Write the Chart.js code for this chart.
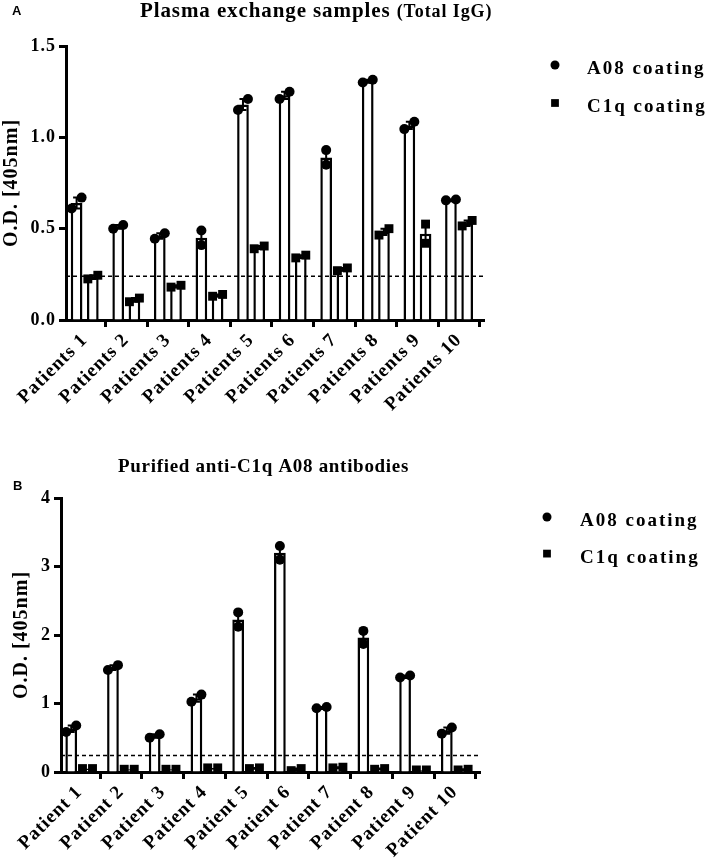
<!DOCTYPE html>
<html>
<head>
<meta charset="utf-8">
<script src="https://cdn.jsdelivr.net/npm/chart.js@4.4.1/dist/chart.umd.min.js"></script>
<style>
  html, body { margin: 0; padding: 0; background: #fff; }
  .panel { position: absolute; left: 0; }
</style>
</head>
<body>
<canvas id="chartA" class="panel" width="711" height="430" style="top:0"></canvas>
<canvas id="chartB" class="panel" width="711" height="434" style="top:430px"></canvas>
<script>
// ---- data ----
const patientsA = ['Patients 1', 'Patients 2', 'Patients 3', 'Patients 4', 'Patients 5',
                   'Patients 6', 'Patients 7', 'Patients 8', 'Patients 9', 'Patients 10'];
const patientsB = ['Patient 1', 'Patient 2', 'Patient 3', 'Patient 4', 'Patient 5',
                   'Patient 6', 'Patient 7', 'Patient 8', 'Patient 9', 'Patient 10'];

// panel A: plasma exchange samples, two replicates per well
const a08A_rep1 = [0.61, 0.50, 0.445, 0.41, 1.15, 1.21, 0.85, 1.30, 1.045, 0.655];
const a08A_rep2 = [0.67, 0.52, 0.475, 0.49, 1.21, 1.25, 0.93, 1.315, 1.085, 0.66];
const c1qA_rep1 = [0.225, 0.10, 0.18, 0.13, 0.39, 0.34, 0.27, 0.465, 0.42, 0.515];
const c1qA_rep2 = [0.245, 0.12, 0.19, 0.14, 0.405, 0.355, 0.285, 0.50, 0.525, 0.545];

// panel B: purified anti-C1q A08 antibodies
const a08B_rep1 = [0.585, 1.49, 0.50, 1.025, 2.12, 3.10, 0.93, 1.87, 1.38, 0.56];
const a08B_rep2 = [0.68, 1.56, 0.55, 1.13, 2.33, 3.30, 0.95, 2.06, 1.41, 0.65];
const c1qB_rep1 = [0.05, 0.04, 0.04, 0.06, 0.05, 0.02, 0.06, 0.04, 0.03, 0.03];
const c1qB_rep2 = [0.05, 0.04, 0.04, 0.06, 0.06, 0.05, 0.07, 0.05, 0.03, 0.04];

const cutoff = 0.24;
const seriesNames = ['A08 coating', 'C1q coating'];

const SERIF = '"Liberation Serif", "Times New Roman", serif';

// mean and SEM of the two replicates
const mean = (r1, r2) => r1.map((v, i) => ({ x: i, y: (v + r2[i]) / 2 }));
const sem = (r1, r2) => r1.map((v, i) => Math.abs(v - r2[i]) / 2);

// replicate dots: side by side when they would overlap, stacked otherwise
function replicatePoints(r1, r2, shift, yMax) {
  const pts = [];
  r1.forEach((v, i) => {
    const lo = Math.min(v, r2[i]), hi = Math.max(v, r2[i]);
    const spread = (hi - lo) < yMax * 0.044 ? 0.12 : 0;
    pts.push({ x: i + shift - spread, y: lo });
    pts.push({ x: i + shift + spread, y: hi });
  });
  return pts;
}

const errorBars = {
  id: 'errorBars',
  afterDatasetDraw(chart, args) {
    const ds = chart.data.datasets[args.index];
    if (!ds.errors) return;
    const ctx = chart.ctx, y = chart.scales.y;
    ctx.save();
    ctx.strokeStyle = '#000';
    ctx.lineWidth = 2;
    args.meta.data.forEach((bar, i) => {
      const e = ds.errors[i];
      if (!e) return;
      const top = y.getPixelForValue(ds.data[i].y + e);
      const bot = y.getPixelForValue(ds.data[i].y - e);
      ctx.beginPath();
      ctx.moveTo(bar.x, top); ctx.lineTo(bar.x, bot);
      ctx.moveTo(bar.x - 3.5, top); ctx.lineTo(bar.x + 3.5, top);
      ctx.moveTo(bar.x - 3.5, bot); ctx.lineTo(bar.x + 3.5, bot);
      ctx.stroke();
    });
    ctx.restore();
  }
};

// panel letter, title and the legend on the right
const panelDecor = {
  id: 'panelDecor',
  beforeDraw(chart) {
    // the figure's serif text is set a little wide
    chart.ctx.letterSpacing = '1px';
  },
  afterDraw(chart, args, o) {
    const ctx = chart.ctx;
    ctx.save();
    ctx.fillStyle = '#000';
    ctx.textBaseline = 'alphabetic';
    ctx.letterSpacing = '0px';
    ctx.font = 'bold 13px "Liberation Sans", Arial, sans-serif';
    ctx.fillText(o.letter, o.letterX, o.letterY);

    let x = o.titleX;
    o.title.forEach(part => {
      ctx.font = 'bold ' + part.size + 'px ' + SERIF;
      ctx.letterSpacing = part.spacing + 'px';
      ctx.fillText(part.text, x, o.titleY);
      x += ctx.measureText(part.text).width;
    });

    ctx.font = 'bold 19px ' + SERIF;
    ctx.letterSpacing = '2px';
    const items = chart.data.datasets.filter(d => d.type === 'scatter');
    items.forEach((d, k) => {
      const cy = o.legendY + k * o.legendGap;
      Chart.helpers.drawPoint(ctx, { pointStyle: d.pointStyle, radius: d.legendRadius, borderWidth: 0 }, o.legendX, cy);
      ctx.fillText(d.label, o.legendTextX, cy + 9);
    });
    ctx.restore();
    ctx.letterSpacing = '0px';
  }
};

function makePanel(id, p) {
  const shift = 0.195;
  const axisBlack = { display: true, color: '#000', width: 3 };
  return new Chart(document.getElementById(id), {
    data: {
      datasets: [
        { type: 'bar', label: seriesNames[0] + ' mean', data: mean(p.a08[0], p.a08[1]), errors: sem(p.a08[0], p.a08[1]),
          backgroundColor: '#fff', borderColor: '#000', borderWidth: 2.5, order: 3,
          categoryPercentage: 0.78, barPercentage: 0.72 },
        { type: 'bar', label: seriesNames[1] + ' mean', data: mean(p.c1q[0], p.c1q[1]), errors: sem(p.c1q[0], p.c1q[1]),
          backgroundColor: '#fff', borderColor: '#000', borderWidth: 2.5, order: 3,
          categoryPercentage: 0.78, barPercentage: 0.72 },
        { type: 'line', label: 'cut-off',
          data: [{ x: p.xMin, y: cutoff }, { x: p.xMax, y: cutoff }],
          borderColor: '#000', borderWidth: 1.5, borderDash: [4, 3], pointRadius: 0, order: 2 },
        { type: 'scatter', label: seriesNames[0],
          data: replicatePoints(p.a08[0], p.a08[1], -shift, p.yMax),
          pointStyle: 'circle', pointRadius: 5, legendRadius: 4.5,
          backgroundColor: '#000', borderColor: '#000', borderWidth: 0, order: 1 },
        { type: 'scatter', label: seriesNames[1],
          data: replicatePoints(p.c1q[0], p.c1q[1], shift, p.yMax),
          pointStyle: 'rect', pointRadius: 6.3, legendRadius: 5.5,
          backgroundColor: '#000', borderColor: '#000', borderWidth: 0, order: 1 }
      ]
    },
    options: {
      responsive: false,
      animation: false,
      layout: { padding: { top: p.top, right: p.right, left: 0, bottom: 0 } },
      scales: {
        x: {
          type: 'linear',
          min: p.xMin, max: p.xMax,
          offset: false,
          border: axisBlack,
          grid: { drawOnChartArea: false, drawTicks: true, tickLength: 7, tickWidth: 3, color: '#000' },
          afterBuildTicks(scale) { scale.ticks = p.labels.map((_, i) => ({ value: i })); },
          ticks: { color: '#000', autoSkip: false, minRotation: 45, maxRotation: 45, padding: 2,
                   font: { family: SERIF, size: 19, weight: 'bold' },
                   callback: v => p.labels[v] },
          afterFit(scale) { scale.height = p.xHeight; }
        },
        y: {
          min: 0, max: p.yMax,
          border: axisBlack,
          grid: { drawOnChartArea: false, drawTicks: true, tickLength: 7, tickWidth: 3, color: '#000' },
          ticks: { stepSize: p.step, color: '#000', padding: 3,
                   font: { family: SERIF, size: 18, weight: 'bold' },
                   callback: v => v.toFixed(p.decimals) },
          title: { display: true, text: 'O.D. [405nm]', color: '#000', padding: { top: p.yTitlePad, bottom: 0 },
                   font: { family: SERIF, size: 20, weight: 'bold' } },
          afterFit(scale) { scale.width = p.yWidth; }
        }
      },
      plugins: {
        legend: { display: false },
        tooltip: { enabled: false },
        panelDecor: p.decor
      }
    },
    plugins: [errorBars, panelDecor]
  });
}

makePanel('chartA', {
  labels: patientsA,
  a08: [a08A_rep1, a08A_rep2], c1q: [c1qA_rep1, c1qA_rep2],
  yMax: 1.5, step: 0.5, decimals: 1, xMin: -0.45, xMax: 9.6,
  top: 46, right: 227, xHeight: 110, yWidth: 66, yTitlePad: 0,
  decor: {
    letter: 'A', letterX: 12, letterY: 15,
    title: [{ text: 'Plasma exchange samples ', size: 21, spacing: 0.9 },
            { text: '(Total IgG)', size: 18, spacing: 0.9 }],
    titleX: 140, titleY: 17,
    legendX: 555, legendY: 65, legendGap: 38, legendTextX: 587
  }
});

makePanel('chartB', {
  labels: patientsB,
  a08: [a08B_rep1, a08B_rep2], c1q: [c1qB_rep1, c1qB_rep2],
  yMax: 4, step: 1, decimals: 0, xMin: -0.44, xMax: 9.6,
  top: 68, right: 231, xHeight: 92, yWidth: 61, yTitlePad: 10,
  decor: {
    letter: 'B', letterX: 13, letterY: 60,
    title: [{ text: 'Purified anti-C1q A08 antibodies', size: 19, spacing: 0.7 }],
    titleX: 118, titleY: 42,
    legendX: 547, legendY: 87, legendGap: 36.6, legendTextX: 580
  }
});
</script>
</body>
</html>
